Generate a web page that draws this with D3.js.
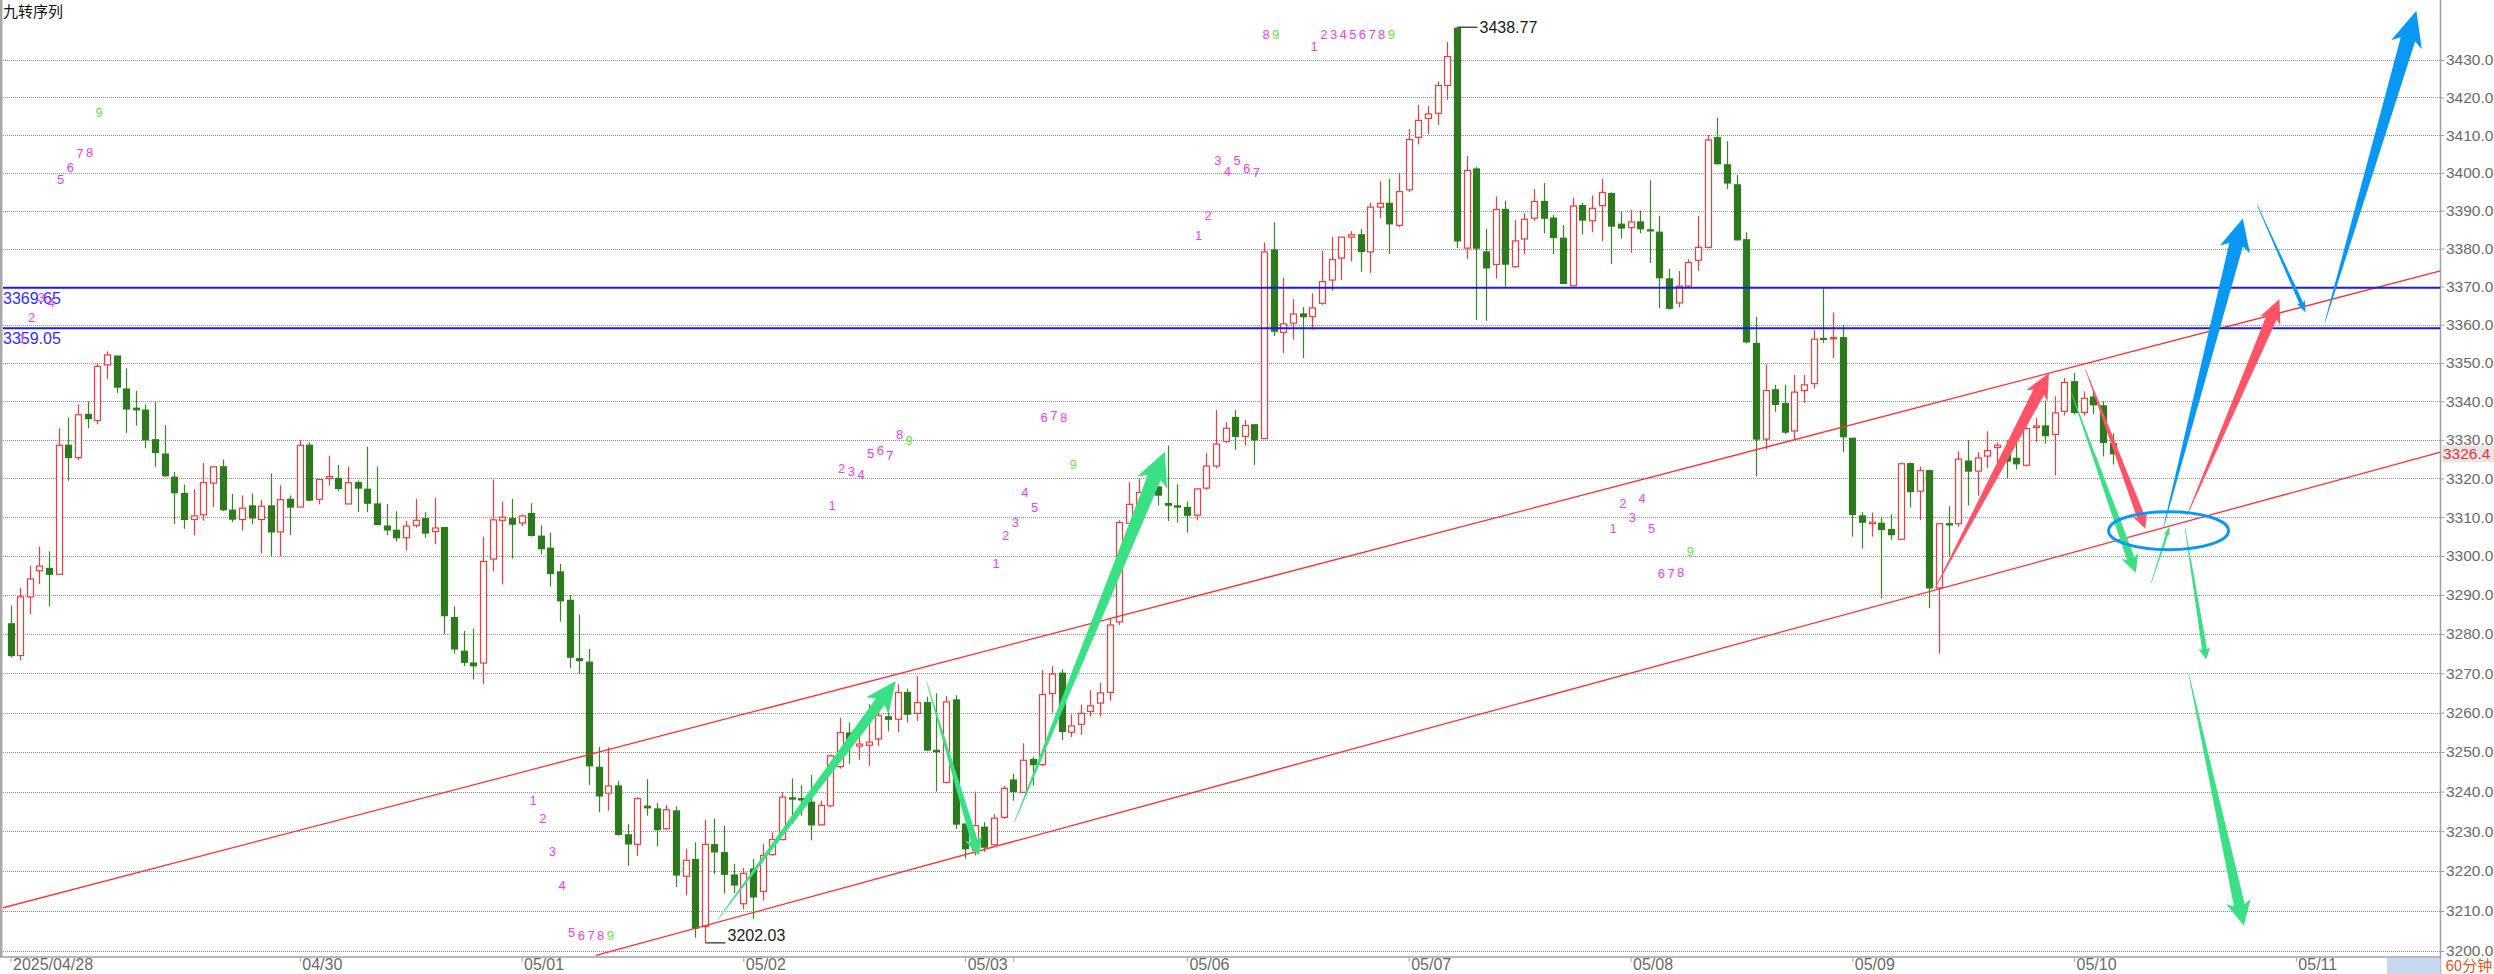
<!DOCTYPE html>
<html><head><meta charset="utf-8">
<script src="https://cdn.jsdelivr.net/npm/d3@7"></script>
<style>html,body{margin:0;padding:0;background:#fff;overflow:hidden}</style>
</head><body>
<svg id="c" width="2494" height="974"></svg>
<script>
// ---------------- data ----------------
const firstIndex = -7; // first visible hourly candle (index 0 = first bar of 04/29)
const opens = [3282.6,3274.5,3289.5,3296.2,3296.8,3295.3,3328.6,3325.4,
3336.6,3335.0,3349.5,3351.8,3343.2,3338.2,3337.7,3330.0,3326.3,3320.3,
3316.1,3309.4,3310.6,3318.8,3323.0,3311.8,3309.4,3312.9,3309.4,3312.9,
3306.2,3314.6,3312.6,3328.6,3314.6,3320.0,3320.0,3313.4,3318.9,3317.2,
3313.4,3307.7,3306.6,3304.7,3307.9,3309.6,3306.3,3307.3,3284.2,3275.6,
3272.6,3272.6,3299.2,3309.2,3309.6,3308.5,3310.9,3305.1,3302.0,3295.9,
3288.6,3273.7,3272.8,3246.1,3239.6,3241.4,3229.1,3226.7,3236.3,3235.6,
3230.6,3235.1,3218.7,3222.9,3206.1,3226.6,3224.6,3219.0,3211.8,3220.5,
3214.9,3224.1,3227.9,3238.4,3238.2,3237.3,3231.6,3236.4,3246.3,3254.8,
3251.5,3251.7,3253.3,3258.9,3258.3,3265.1,3259.8,3262.5,3250.4,3242.3,
3263.2,3231.8,3225.2,3231.0,3226.6,3233.5,3242.9,3239.8,3248.1,3246.8,
3264.8,3270.0,3255.0,3257.0,3260.3,3262.4,3265.1,3283.1,3308.4,3313.0,
3316.0,3317.8,3313.5,3312.9,3312.5,3310.5,3317.5,3323.2,3329.6,3335.8,
3330.9,3333.9,3330.3,3379.6,3358.0,3360.4,3362.8,3362.1,3365.6,3371.7,
3377.5,3383.0,3383.6,3379.1,3390.9,3391.9,3386.1,3395.5,3409.4,3414.4,
3415.8,3423.2,3438.5,3380.1,3401.0,3379.1,3375.8,3390.3,3375.2,3382.5,
3388.0,3392.4,3388.0,3382.7,3370.2,3391.3,3387.3,3391.3,3394.5,3386.4,
3385.5,3387.0,3384.9,3384.3,3372.0,3365.7,3370.1,3376.9,3380.3,3409.3,
3402.1,3396.8,3382.3,3355.1,3330.2,3343.0,3339.4,3332.3,3342.8,3344.6,
3356.4,3356.3,3356.6,3330.4,3310.3,3308.3,3308.4,3306.8,3304.3,3323.8,
3316.7,3322.0,3291.8,3308.3,3308.3,3324.5,3321.9,3325.8,3328.0,3326.5,
3325.2,3323.4,3333.2,3333.6,3331.4,3337.4,3345.1,3337.1,3341.1,3338.8,3329.0];
const highs = [3287.3,3291.8,3297.5,3302.4,3301.2,3333.0,3335.8,3339.2,
3340.0,3350.0,3353.0,3351.8,3348.6,3342.7,3339.2,3339.8,3333.8,3321.7,
3318.4,3317.2,3324.0,3323.2,3324.9,3316.0,3315.6,3316.1,3314.4,3321.3,
3318.2,3315.6,3329.9,3329.4,3319.7,3325.9,3323.5,3323.0,3319.5,3328.2,
3323.0,3313.4,3311.5,3309.0,3314.7,3311.3,3314.9,3307.3,3287.1,3280.8,
3281.4,3305.0,3319.7,3314.0,3314.7,3310.7,3313.6,3307.9,3306.0,3298.0,
3290.0,3285.0,3276.2,3251.3,3251.2,3242.7,3231.8,3238.6,3243.1,3237.1,
3236.6,3236.3,3225.6,3227.2,3232.9,3233.2,3231.4,3221.8,3220.8,3223.0,
3226.8,3229.7,3239.8,3243.3,3241.6,3244.2,3237.7,3249.4,3258.7,3257.5,
3254.0,3262.1,3260.8,3261.7,3267.2,3266.1,3269.2,3264.0,3264.9,3264.2,
3264.4,3231.8,3240.0,3232.3,3234.3,3241.4,3244.5,3252.2,3248.8,3270.8,
3271.8,3271.0,3259.5,3262.0,3265.7,3267.6,3284.0,3309.2,3319.0,3320.0,
3322.0,3318.0,3328.5,3318.5,3314.0,3317.5,3326.6,3337.8,3334.6,3337.8,
3335.2,3333.9,3381.6,3386.9,3372.3,3366.7,3364.6,3368.2,3379.4,3383.1,
3383.1,3384.6,3385.2,3392.1,3397.8,3398.4,3400.0,3411.6,3418.1,3417.7,
3424.3,3434.8,3438.77,3404.5,3401.5,3385.2,3393.7,3392.6,3387.5,3389.3,
3395.7,3397.3,3388.9,3386.2,3393.4,3392.0,3394.0,3398.4,3394.8,3389.7,
3390.2,3390.0,3398.0,3388.6,3374.7,3374.1,3377.2,3388.6,3410.0,3414.6,
3408.4,3399.4,3384.3,3362.1,3349.6,3344.3,3344.3,3346.9,3346.9,3358.6,
3369.5,3363.2,3360.0,3330.4,3311.3,3311.2,3310.1,3310.7,3324.1,3324.1,
3323.1,3322.3,3308.5,3312.8,3327.0,3329.9,3326.8,3332.2,3329.3,3330.0,
3329.7,3333.3,3335.7,3340.2,3341.3,3346.1,3347.4,3342.6,3342.9,3340.1,3331.7];
const lows = [3274.0,3273.3,3285.1,3292.8,3287.1,3295.3,3319.4,3324.7,
3333.0,3334.0,3345.8,3342.2,3331.8,3333.7,3327.8,3323.0,3320.4,3308.2,
3307.0,3305.3,3309.1,3312.6,3311.6,3308.7,3306.5,3308.2,3300.7,3299.9,
3299.9,3305.4,3312.6,3314.1,3313.3,3318.1,3316.7,3313.4,3311.3,3311.3,
3307.9,3305.3,3303.7,3301.4,3307.3,3304.7,3303.0,3280.0,3275.0,3271.8,
3268.4,3267.3,3296.0,3292.7,3299.3,3307.7,3305.0,3300.4,3292.2,3283.2,
3271.3,3269.8,3241.7,3234.8,3235.2,3228.9,3221.3,3223.8,3233.9,3226.2,
3230.4,3216.0,3213.9,3203.3,3202.03,3219.3,3214.4,3214.5,3210.4,3208.0,
3212.6,3223.9,3227.7,3231.8,3233.9,3227.7,3231.4,3236.0,3245.8,3247.0,
3248.0,3246.5,3251.6,3255.2,3255.0,3257.5,3257.9,3250.2,3240.0,3242.0,
3230.6,3223.1,3223.9,3224.8,3226.4,3233.1,3237.7,3239.6,3241.5,3246.4,
3260.0,3253.0,3253.8,3254.3,3259.0,3259.0,3263.0,3282.3,3308.2,3311.0,
3314.0,3313.0,3309.0,3308.6,3306.0,3309.2,3317.0,3322.6,3329.1,3327.4,
3328.5,3323.5,3330.3,3357.0,3352.6,3356.1,3351.3,3358.7,3365.2,3368.9,
3371.7,3376.6,3373.9,3373.6,3388.0,3378.5,3385.6,3394.9,3407.5,3410.2,
3412.7,3419.4,3380.1,3377.2,3361.2,3361.0,3372.1,3370.0,3374.9,3378.5,
3387.3,3384.0,3378.5,3370.8,3370.2,3383.7,3384.3,3382.0,3375.9,3382.6,
3378.9,3384.0,3376.2,3364.3,3363.9,3364.5,3369.8,3374.1,3380.0,3402.2,
3395.7,3382.1,3355.1,3320.5,3327.5,3337.3,3331.5,3330.2,3339.6,3343.3,
3355.2,3351.3,3326.8,3305.0,3301.9,3305.0,3289.1,3304.2,3304.2,3312.5,
3309.2,3286.6,3275.0,3299.8,3307.5,3313.0,3315.5,3322.7,3324.1,3320.0,
3322.3,3323.1,3329.4,3329.0,3320.8,3336.3,3336.6,3336.3,3336.6,3325.7,3323.6];
const closes = [3274.5,3289.5,3294.1,3297.4,3295.3,3328.6,3325.4,3336.5,
3335.5,3349.1,3352.1,3343.7,3338.0,3337.8,3330.0,3326.7,3320.7,3316.3,
3309.4,3310.3,3318.9,3323.0,3311.9,3309.5,3312.3,3309.8,3312.8,3306.2,
3314.5,3312.6,3328.6,3314.4,3319.7,3320.5,3317.4,3318.9,3317.5,3313.6,
3308.1,3306.7,3304.7,3307.7,3309.2,3305.9,3307.2,3284.7,3276.2,3272.8,
3271.9,3298.6,3309.3,3310.0,3308.2,3310.3,3305.3,3301.9,3295.5,3288.5,
3274.1,3273.2,3246.5,3238.9,3241.4,3229.2,3226.8,3238.2,3235.9,3230.4,
3235.4,3219.0,3222.7,3205.7,3226.7,3224.8,3219.2,3216.5,3219.4,3213.5,
3223.9,3227.9,3238.6,3238.1,3237.9,3231.6,3236.5,3249.0,3254.9,3251.6,
3252.0,3252.5,3259.2,3258.3,3265.1,3259.6,3262.5,3250.5,3250.1,3262.7,
3231.8,3225.6,3231.4,3226.0,3233.3,3240.8,3240.0,3247.9,3246.8,3264.6,
3269.8,3255.2,3256.6,3259.8,3261.7,3265.0,3282.3,3308.6,3313.3,3316.4,
3318.5,3315.7,3313.1,3312.6,3310.5,3317.3,3323.2,3328.9,3333.0,3330.9,
3333.7,3330.0,3379.1,3358.3,3360.2,3362.8,3362.1,3364.4,3371.3,3377.1,
3383.0,3383.6,3379.2,3390.9,3391.9,3386.5,3395.0,3408.8,3413.9,3415.6,
3423.2,3430.9,3382.0,3400.6,3380.1,3374.9,3390.3,3375.9,3382.0,3387.7,
3392.4,3388.0,3382.9,3370.8,3391.2,3387.5,3390.6,3394.8,3385.9,3385.4,
3387.0,3385.2,3384.7,3372.3,3364.3,3370.1,3376.3,3380.3,3408.7,3402.4,
3397.3,3382.3,3355.5,3330.2,3342.8,3339.2,3332.0,3342.4,3344.3,3356.2,
3356.2,3356.6,3330.8,3310.7,3308.7,3308.7,3306.8,3305.5,3323.8,3316.6,
3322.0,3291.8,3308.3,3308.0,3325.0,3321.9,3325.3,3327.2,3328.6,3324.5,
3323.8,3332.9,3333.6,3331.1,3337.0,3344.9,3337.1,3340.8,3339.1,3329.3,3326.4];

const dayTickIndex  = [-7, 0, 23, 46, 69, 92, 97, 115, 138, 161, 184, 207, 230];
const dayTickLabels = ["2025/04/28", "", "04/30", "05/01", "05/02", "05/03", "", "05/06", "05/07", "05/08", "05/09", "05/10", "05/11"];
const priceTicks = d3.range(3200, 3431, 10);
const levelPrices = [3369.65, 3359.05];
const lastPrice = 3326.4;
const highMark = {index: 143, price: 3438.77};
const lowMark  = {index: 65,  price: 3202.03};
const channelUpper = [[-8.09, 3210.6], [245, 3374.1]];
const channelLower = [[53.72, 3198.9], [245, 3326.8]];

// TD sequential (九转) counts: first candle of each run and the price where each digit sits
const tdStart = [-6, 47, 78, 95, 116, 128, 159];
const tdPrices = [
  [3356.5, 3362.0, 3367.0, 3365.7, 3398.3, 3401.5, 3405.2, 3405.5, 3415.9],
  [3237.7, 3233.1, 3225.0, 3216.3, 3204.5, 3203.8, 3203.8, 3203.8, 3203.8],
  [3313.0, 3322.6, 3321.7, 3320.9, 3326.5, 3327.2, 3326.0, 3331.3, 3329.8],
  [3298.0, 3305.3, 3308.7, 3316.3, 3312.4, 3335.7, 3336.2, 3335.7, 3323.6],
  [3383.4, 3388.8, 3403.3, 3400.4, 3403.3, 3401.1, 3400.0, 3436.8, 3436.8],
  [3433.7, 3436.8, 3436.8, 3436.8, 3436.8, 3436.8, 3436.8, 3436.8, 3436.8],
  [3307.0, 3313.4, 3309.8, 3314.7, 3307.2, 3295.5, 3295.4, 3295.8, 3301.1]
];

// hand-drawn arrows: start / end as [index, price], colour key
const arrowStart = [[66.3,3207.7],[88.0,3267.9],[97.1,3232.2],[206.75,3342.1],[215.0,3293.1],[218.5,3307.3],[218.9,3269.7],
                    [192.6,3291.8],[208.2,3348.2],[218.7,3310.4],
                    [216.3,3307.6],[226.0,3391.4],[233.0,3360.5]];
const arrowEnd   = [[84.8,3268.0],[93.4,3223.9],[112.7,3326.9],[213.4,3295.7],[216.9,3307.6],[220.7,3273.5],[224.6,3206.3],
                    [204.4,3347.4],[214.4,3307.0],[228.3,3366.7],
                    [224.5,3387.9],[231.0,3363.2],[242.5,3443.2]];
const arrowColor = ["g","g","g","g","g","g","g","r","r","r","b","b","b"];
const ellipseCenter = [216.8, 3306.5];

// ---------------- styles ----------------
const W = 2494, H = 974, plotL = 3, plotR = 2440.5, plotB = 957;
const C = {up:"#f03c3c", down:"#2e7a1e", grid:"#8a8a8a", axis:"#a0a0a0", axisText:"#6a6a6a",
  level:"#1a1aee", levelText:"#2d2dff", chan:"#ff2f2f", magenta:"#ee3cee", tdGreen:"#66e63a",
  g:"#3ae184", r:"#ff5468", b:"#0a98f5"};
// arrow sizes (shaft width at head, head width, head length)
const arrowSize = [[11,28,26],[7,18,15],[14,32,28],[8,18,15],[2.5,6,8],[5,12,10],[11,25,21],
                   [12,24,22],[8,15,13],[11,22,20],[14,31,27],[4,9,10],[15,32,30]];

// ---------------- scales ----------------
const x = d3.scaleLinear().domain([-7, 245]).range([10.5, 2440.5]);
const y = d3.scaleLog().domain([3200, 3430]).range([951, 60]);

const svg = d3.select("#c");
svg.append("rect").attr("width", W).attr("height", H).attr("fill", "#fff");
svg.append("defs").append("clipPath").attr("id", "clip").append("rect")
  .attr("x", plotL).attr("y", 0).attr("width", plotR - plotL).attr("height", plotB);

const font = "'Liberation Sans', Arial, sans-serif";

// grid (dotted)
const gridAxis = d3.axisLeft(y).tickValues(priceTicks).tickSize(-(plotR - plotL)).tickFormat("");
const gGrid = svg.append("g").attr("transform", `translate(${plotL},0)`).call(gridAxis);
gGrid.select(".domain").remove();
gGrid.selectAll("line").attr("stroke", C.grid).attr("stroke-dasharray", "1,1").attr("shape-rendering", "crispEdges");

// right axis
const yAxis = d3.axisRight(y).tickValues(priceTicks).tickFormat(d3.format(".1f")).tickSize(4).tickPadding(1.5);
const gY = svg.append("g").attr("transform", `translate(${plotR},0)`).call(yAxis);
gY.select(".domain").remove();
gY.selectAll("line").attr("stroke", C.axis);
gY.selectAll("text").attr("fill", C.axisText).style("font", `15.5px ${font}`);
svg.append("line").attr("x1", plotR).attr("x2", plotR).attr("y1", 0).attr("y2", H)
  .attr("stroke", C.axis).attr("stroke-width", 1.5);
// left border
svg.append("rect").attr("x", 0).attr("y", 0).attr("width", 2.5).attr("height", plotB).attr("fill", "#a8a8a8");

// bottom axis
const xAxis = d3.axisBottom(x).tickValues(dayTickIndex).tickSize(5)
  .tickFormat((d, i) => dayTickLabels[i]);
const gX = svg.append("g").attr("transform", `translate(0,${plotB})`).call(xAxis);
gX.select(".domain").remove();
gX.selectAll("line").attr("stroke", C.axis);
gX.selectAll("text").attr("text-anchor", "start").attr("x", 2).attr("y", 2)
  .attr("fill", C.axisText).style("font", `16px ${font}`);
svg.append("line").attr("x1", 0).attr("x2", plotR).attr("y1", plotB).attr("y2", plotB)
  .attr("stroke", C.axis).attr("stroke-width", 1.5);

// plot layer
const plot = svg.append("g").attr("clip-path", "url(#clip)");

// candles
const candles = opens.map((o, k) => ({i: firstIndex + k, o, h: highs[k], l: lows[k], c: closes[k]}));
const gc = plot.append("g");
gc.selectAll("line").data(candles).join("line")
  .attr("x1", d => Math.round(x(d.i)) + 0.5).attr("x2", d => Math.round(x(d.i)) + 0.5)
  .attr("y1", d => y(d.h)).attr("y2", d => y(d.l))
  .attr("stroke", d => d.c >= d.o ? C.up : d3.color(C.down).brighter(0.3))
  .attr("stroke-width", 1.2);
gc.selectAll("rect").data(candles).join("rect")
  .attr("x", d => Math.round(x(d.i)) + 0.5 - 3)
  .attr("y", d => y(Math.max(d.o, d.c)))
  .attr("width", 6)
  .attr("height", d => Math.max(1, y(Math.min(d.o, d.c)) - y(Math.max(d.o, d.c))))
  .attr("fill", d => d.c >= d.o ? "#fff" : C.down)
  .attr("stroke", d => d.c >= d.o ? C.up : C.down)
  .attr("stroke-width", 1.2);

// channel lines
[channelUpper, channelLower].forEach(seg => {
  plot.append("line")
    .attr("x1", x(seg[0][0])).attr("y1", y(seg[0][1]))
    .attr("x2", x(seg[1][0])).attr("y2", y(seg[1][1]))
    .attr("stroke", C.chan).attr("stroke-width", 1.3);
});

// level lines
levelPrices.forEach(p => {
  plot.append("line").attr("x1", 0).attr("x2", plotR).attr("y1", y(p)).attr("y2", y(p))
    .attr("stroke", C.level).attr("stroke-width", 2);
});

// arrows
function arrowPts(x1, y1, x2, y2, shaft, head, len) {
  const dx = x2 - x1, dy = y2 - y1, L = Math.hypot(dx, dy);
  const ux = dx / L, uy = dy / L, nx = -uy, ny = ux;
  const bx = x2 - ux * len, by = y2 - uy * len;
  const sw = len * 0.18, w0 = 0.6;
  return [
    [x1 + nx * w0 / 2, y1 + ny * w0 / 2],
    [bx + nx * shaft / 2, by + ny * shaft / 2],
    [bx - ux * sw + nx * head / 2, by - uy * sw + ny * head / 2],
    [x2, y2],
    [bx - ux * sw - nx * head / 2, by - uy * sw - ny * head / 2],
    [bx - nx * shaft / 2, by - ny * shaft / 2],
    [x1 - nx * w0 / 2, y1 - ny * w0 / 2]
  ];
}
const arrowData = arrowStart.map((s, k) => ({s, e: arrowEnd[k], col: C[arrowColor[k]], size: arrowSize[k]}));
plot.append("g").selectAll("path").data(arrowData).join("path")
  .attr("d", d => d3.line()(arrowPts(x(d.s[0]), y(d.s[1]), x(d.e[0]), y(d.e[1]), ...d.size)) + "Z")
  .attr("fill", d => d.col);

// ellipse
plot.append("ellipse").attr("cx", x(ellipseCenter[0])).attr("cy", y(ellipseCenter[1]))
  .attr("rx", 60).attr("ry", 19).attr("fill", "none").attr("stroke", C.b).attr("stroke-width", 3);

// level labels
levelPrices.forEach(p => {
  svg.append("text").attr("x", 3).attr("y", y(p) + 16).text(p.toFixed(2))
    .attr("fill", C.levelText).style("font", `16px ${font}`);
});

// TD digits
const tdData = [];
tdStart.forEach((st, g) => tdPrices[g].forEach((p, k) => tdData.push({i: st + k, p, n: k + 1})));
svg.append("g").selectAll("text").data(tdData).join("text")
  .attr("x", d => x(d.i + 0.2)).attr("y", d => y(d.p))
  .attr("text-anchor", "middle").attr("dominant-baseline", "central")
  .attr("fill", d => d.n === 9 ? C.tdGreen : C.magenta)
  .style("font", `13px ${font}`).text(d => d.n);

// high / low marks
const hx = Math.round(x(highMark.index)) + 0.5, hy = y(highMark.price);
svg.append("line").attr("x1", hx).attr("x2", hx + 20).attr("y1", hy).attr("y2", hy).attr("stroke", "#222").attr("stroke-width", 1.2);
svg.append("text").attr("x", hx + 22).attr("y", hy).attr("dominant-baseline", "central")
  .attr("fill", "#1a1a1a").style("font", `16px ${font}`).text(highMark.price.toFixed(2));
const lx = Math.round(x(lowMark.index)) + 0.5, ly = y(lowMark.price);
svg.append("line").attr("x1", lx).attr("x2", lx + 20).attr("y1", ly).attr("y2", ly).attr("stroke", "#222").attr("stroke-width", 1.2);
svg.append("text").attr("x", lx + 22).attr("y", ly - 2)
  .attr("fill", "#1a1a1a").style("font", `16px ${font}`).text(lowMark.price.toFixed(2));

// last price tag
svg.append("rect").attr("x", plotR + 1).attr("y", y(lastPrice) - 8.5).attr("width", W - plotR).attr("height", 17).attr("fill", "#e6e6e6");
svg.append("text").attr("x", plotR + 2.5).attr("y", y(lastPrice)).attr("dominant-baseline", "central")
  .attr("fill", "#e33").style("font", `15.5px ${font}`).text(lastPrice.toFixed(1));

// title & corner items
svg.append("text").attr("x", 3).attr("y", 17).attr("fill", "#111")
  .style("font", "15px 'Noto Sans CJK SC', sans-serif").text("九转序列");
svg.append("rect").attr("x", 2387).attr("y", plotB + 1).attr("width", plotR - 2387).attr("height", H - plotB).attr("fill", "#c6d9f1");
svg.append("text").attr("x", plotR + 5).attr("y", 971).attr("fill", "#e0561c")
  .style("font", "15px 'Noto Sans CJK SC', sans-serif").text("60分钟");
</script>
</body></html>
